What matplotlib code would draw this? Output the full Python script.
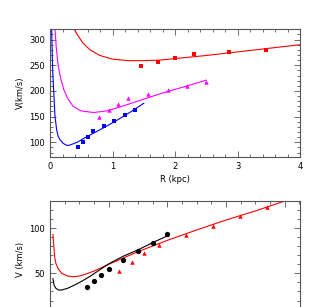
import matplotlib
matplotlib.use("Agg")
import matplotlib.pyplot as plt
from matplotlib.ticker import MultipleLocator

# ---- Top panel data ----
red_sq_r = [1.46, 1.73, 2.00, 2.30, 2.87, 3.45]
red_sq_v = [249, 257, 264, 272, 276, 279]
red_top_curve_r = [0.39, 0.45, 0.53, 0.64, 0.80, 1.00, 1.25, 1.50, 1.75, 2.00, 2.50, 3.00, 3.50, 4.00]
red_top_curve_v = [320, 307, 293, 280, 269, 262, 259, 259, 260, 263, 269, 276, 283, 290]

mag_tri_r = [0.79, 0.94, 1.09, 1.25, 1.56, 1.88, 2.19, 2.50]
mag_tri_v = [150, 162, 175, 187, 194, 202, 210, 218]
mag_curve_r = [0.08, 0.10, 0.13, 0.17, 0.22, 0.28, 0.37, 0.50, 0.70, 0.90, 1.10, 1.40, 1.80, 2.20, 2.50]
mag_curve_v = [320, 285, 250, 225, 203, 186, 170, 161, 158, 161, 168, 180, 196, 210, 221]

blue_sq_r = [0.44, 0.52, 0.60, 0.69, 0.86, 1.02, 1.20, 1.36]
blue_sq_v = [90, 101, 111, 122, 132, 142, 153, 163]
blue_curve_r = [0.027, 0.035, 0.043, 0.054, 0.064, 0.08, 0.107, 0.13, 0.16, 0.21, 0.27, 0.30, 0.37, 0.45, 0.53, 0.70, 0.90, 1.10, 1.30, 1.50]
blue_curve_v = [320, 275, 241, 210, 189, 150, 124, 112, 105, 98, 94, 94, 97, 101, 107, 118, 131, 145, 160, 176]

# ---- Bottom panel data ----
blk_r = [0.63, 0.75, 0.87, 1.00, 1.25, 1.50, 1.75, 2.00]
blk_v = [35, 41.5, 48, 54.7, 64.3, 74.3, 83.8, 93.4]
blk_curve_r = [0.05, 0.07, 0.10, 0.15, 0.20, 0.30, 0.40, 0.50, 0.60, 0.70, 0.85, 1.00, 1.25, 1.50, 1.75, 2.00]
blk_curve_v = [44, 37, 33.5, 31.5, 31.6, 33.5, 36.5, 39.8, 43.5, 47.5, 54, 60.5, 69, 76, 84, 91.5]

red_tri_r = [1.17, 1.39, 1.61, 1.85, 2.31, 2.78, 3.24, 3.70]
red_tri_v = [52.9, 62.1, 72.1, 81.2, 91.9, 102.5, 113.2, 123.5]
red_bot_curve_r = [0.05, 0.065, 0.08, 0.10, 0.14, 0.20, 0.30, 0.40, 0.50, 0.60, 0.75, 1.00, 1.25, 1.50, 2.00, 2.50, 3.00, 3.50, 4.00]
red_bot_curve_v = [93, 80, 68, 61, 55, 50, 47, 46.3, 47, 49, 52.5, 60, 67, 74, 86.5, 98, 109, 119, 130]

plt.rcParams['font.family'] = ['DejaVu Sans']

fig = plt.figure(figsize=(3.27, 3.07), dpi=100)

W, H = 327.0, 307.0
ax1 = fig.add_axes([50 / W, 1 - 156.7 / H, 250 / W, 127.4 / H])
ax2 = fig.add_axes([50 / W, 1 - 318.6 / H, 250 / W, 117.6 / H])

spine_col = '#555555'
for ax in (ax1, ax2):
    for s in ax.spines.values():
        s.set_color(spine_col)
        s.set_linewidth(0.8)
    ax.tick_params(which='both', direction='in', top=True, right=True,
                   color=spine_col, labelsize=6, width=0.6)
    ax.tick_params(which='major', length=4.5)
    ax.tick_params(which='minor', length=2.2)

lw = 0.8
# Top panel
ax1.plot(red_top_curve_r, red_top_curve_v, color='#ff0000', lw=lw)
ax1.plot(red_sq_r, red_sq_v, 's', color='#ff0000', ms=3, mew=0)
ax1.plot(mag_curve_r, mag_curve_v, color='#ff00ff', lw=lw)
ax1.plot(mag_tri_r, mag_tri_v, '^', color='#ff00ff', ms=3.2, mew=0)
ax1.plot(blue_curve_r, blue_curve_v, color='#0000ff', lw=lw)
ax1.plot(blue_sq_r, blue_sq_v, 's', color='#0000ff', ms=3, mew=0)
ax1.set_xlim(0, 4)
ax1.set_ylim(72, 320)
ax1.xaxis.set_major_locator(MultipleLocator(1))
ax1.xaxis.set_minor_locator(MultipleLocator(0.2))
ax1.yaxis.set_major_locator(MultipleLocator(50))
ax1.yaxis.set_minor_locator(MultipleLocator(10))
ax1.set_xlabel('R (kpc)', fontsize=6, labelpad=3)
ax1.set_ylabel('V(km/s)', fontsize=6, labelpad=3)

# Bottom panel
ax2.plot(red_bot_curve_r, red_bot_curve_v, color='#ff0000', lw=lw)
ax2.plot(red_tri_r, red_tri_v, '^', color='#ff0000', ms=3.2, mew=0)
ax2.plot(blk_curve_r, blk_curve_v, color='black', lw=lw)
ax2.plot(blk_r, blk_v, 'o', color='black', ms=3.8, mew=0)
ax2.set_xlim(0, 4.26)
ax2.set_ylim(0, 130)
ax2.xaxis.set_major_locator(MultipleLocator(1))
ax2.xaxis.set_minor_locator(MultipleLocator(0.25))
ax2.yaxis.set_major_locator(MultipleLocator(50))
ax2.yaxis.set_minor_locator(MultipleLocator(10))
ax2.set_yticks([50, 100])
ax2.tick_params(axis='x', labelbottom=False)
ax2.set_ylabel('V (km/s)', fontsize=6, labelpad=3)

fig.savefig('out.png', dpi=100)
